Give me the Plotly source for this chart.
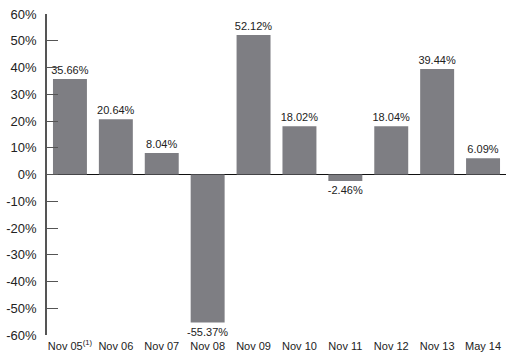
import plotly.graph_objects as go

periods = ["Nov 05<sup>(1)</sup>", "Nov 06", "Nov 07", "Nov 08", "Nov 09",
           "Nov 10", "Nov 11", "Nov 12", "Nov 13", "May 14"]
returns = [35.66, 20.64, 8.04, -55.37, 52.12, 18.02, -2.46, 18.04, 39.44, 6.09]
y_ticks = list(range(-60, 61, 10))

fig = go.Figure(
    go.Bar(
        x=periods,
        y=returns,
        marker=dict(color="#7e7e83", line=dict(width=0)),
        width=0.74,
        text=[f"{v:.2f}%" for v in returns],
        textposition="outside",
        constraintext="none",
        textfont=dict(size=11, color="#222222"),
        cliponaxis=False,
    )
)

fig.update_layout(
    width=512,
    height=353,
    margin=dict(l=47, r=6, t=14, b=18),
    paper_bgcolor="white",
    plot_bgcolor="white",
    font=dict(family="Liberation Sans, Arial, sans-serif", color="#222222"),
    showlegend=False,
    bargap=0.26,
)

fig.update_xaxes(
    type="category",
    range=[-0.5, 9.5],
    showgrid=False,
    showline=False,
    ticks="",
    tickfont=dict(size=11),
    ticklabelstandoff=3,
    automargin=False,
)

fig.update_yaxes(
    range=[-60, 60],
    tickvals=y_ticks,
    ticktext=[f"{v}%" for v in y_ticks],
    tickfont=dict(size=13),
    showgrid=False,
    showline=True,
    linecolor="#555555",
    linewidth=1.5,
    ticks="inside",
    ticklen=11,
    tickcolor="#555555",
    tickwidth=1,
    zeroline=True,
    zerolinecolor="#111111",
    zerolinewidth=1,
    ticklabelstandoff=6,
    automargin=False,
)

fig.write_html("out.html")
